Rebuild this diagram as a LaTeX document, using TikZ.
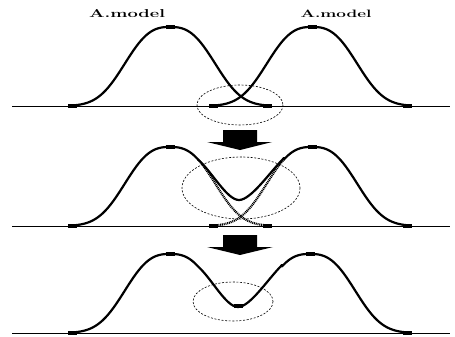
\documentclass[tikz,border=0pt]{standalone}
\usepackage{graphicx}
\begin{document}
\begin{tikzpicture}[x=1pt,y=-1pt,
  curve/.style={line width=2.2pt,line join=round,line cap=round},
  ghost/.style={line width=2.2pt,dash pattern=on 1pt off 0.8pt},
  base/.style={line width=0.8pt},
  zone/.style={line width=0.6pt,dash pattern=on 2pt off 1.6pt},
  mk/.style={rectangle,fill=black,minimum width=9pt,minimum height=3.6pt,inner sep=0pt},
  bigarrow/.style={fill=black},
  lab/.style={font=\fontsize{12}{12}\selectfont\bfseries,inner sep=0pt}]
\useasboundingbox (0,0) rectangle (455,337);

% labels
\node[lab] (labA) at (127,14) {\resizebox{76pt}{!}{\scalebox{1.6}[1]{A.model}}};
\node[lab] (labB) at (336,14) {\resizebox{71pt}{!}{\scalebox{1.6}[1]{A.model}}};

% ---------- panel 1 ----------
\coordinate (b1l) at (12,106);
\coordinate (b1r) at (450,106);
\draw[base] (b1l) -- (b1r);
\draw[curve] plot[domain=72:267,samples=100] (\x,{106-79*exp(-0.693*(abs(\x-170)/47)^2.7)});
\draw[curve] plot[domain=213:407,samples=100] (\x,{106-79*exp(-0.693*(abs(\x-312)/47)^2.7)});
\node[mk] (p1a) at (72,106) {};
\node[mk] (p1b) at (170,27) {};
\node[mk] (p1c) at (267,106) {};
\node[mk] (p1d) at (213,106) {};
\node[mk] (p1e) at (312,27) {};
\node[mk] (p1f) at (407,106) {};
\draw[zone] (240,105) ellipse [x radius=43,y radius=20];

% arrow 1
\fill[bigarrow] (223,130) -- (257,130) -- (257,142) -- (272,142) -- (240,150) -- (207,142) -- (223,142) -- cycle;

% ---------- panel 2 ----------
\coordinate (b2l) at (12,226);
\coordinate (b2r) at (450,226);
\draw[base] (b2l) -- (b2r);
\draw[ghost] plot[domain=198:267,samples=50] (\x,{226-79*exp(-0.693*(abs(\x-170)/47)^2.7)});
\draw[ghost] plot[domain=213:284,samples=50] (\x,{226-79*exp(-0.693*(abs(\x-312)/47)^2.7)});
\draw[curve] plot[domain=72:198,samples=80] (\x,{226-79*exp(-0.693*(abs(\x-170)/47)^2.7)})
  .. controls (212,172) and (227,200) .. (239,200)
  .. controls (251,200) and (270,172) .. (284,158)
  -- plot[domain=284:407,samples=80] (\x,{226-79*exp(-0.693*(abs(\x-312)/47)^2.7)});
\node[mk] (p2a) at (72,226) {};
\node[mk] (p2b) at (170,147) {};
\node[mk] (p2c) at (267,226) {};
\node[mk] (p2d) at (213,226) {};
\node[mk] (p2e) at (312,147) {};
\node[mk] (p2f) at (407,226) {};
\draw[zone] (241,188) ellipse [x radius=59,y radius=31];

% arrow 2
\fill[bigarrow] (223,235) -- (257,235) -- (257,247) -- (273,247) -- (240,255) -- (207,247) -- (223,247) -- cycle;

% ---------- panel 3 ----------
\coordinate (b3l) at (12,333);
\coordinate (b3r) at (450,333);
\draw[base] (b3l) -- (b3r);
\draw[curve] plot[domain=72:198,samples=80] (\x,{333-79*exp(-0.693*(abs(\x-170)/47)^2.7)})
  .. controls (212,279) and (226,307) .. (238,307)
  .. controls (250,307) and (268,279) .. (282,265)
  -- plot[domain=282:407,samples=80] (\x,{333-79*exp(-0.693*(abs(\x-310)/47)^2.7)});
\node[mk] (p3a) at (72,333) {};
\node[mk] (p3b) at (170,254) {};
\node[mk] (p3c) at (238,306) {};
\node[mk] (p3e) at (310,254) {};
\node[mk] (p3f) at (407,333) {};
\draw[zone] (233,301.5) ellipse [x radius=40,y radius=19.5];
\end{tikzpicture}
\end{document}
